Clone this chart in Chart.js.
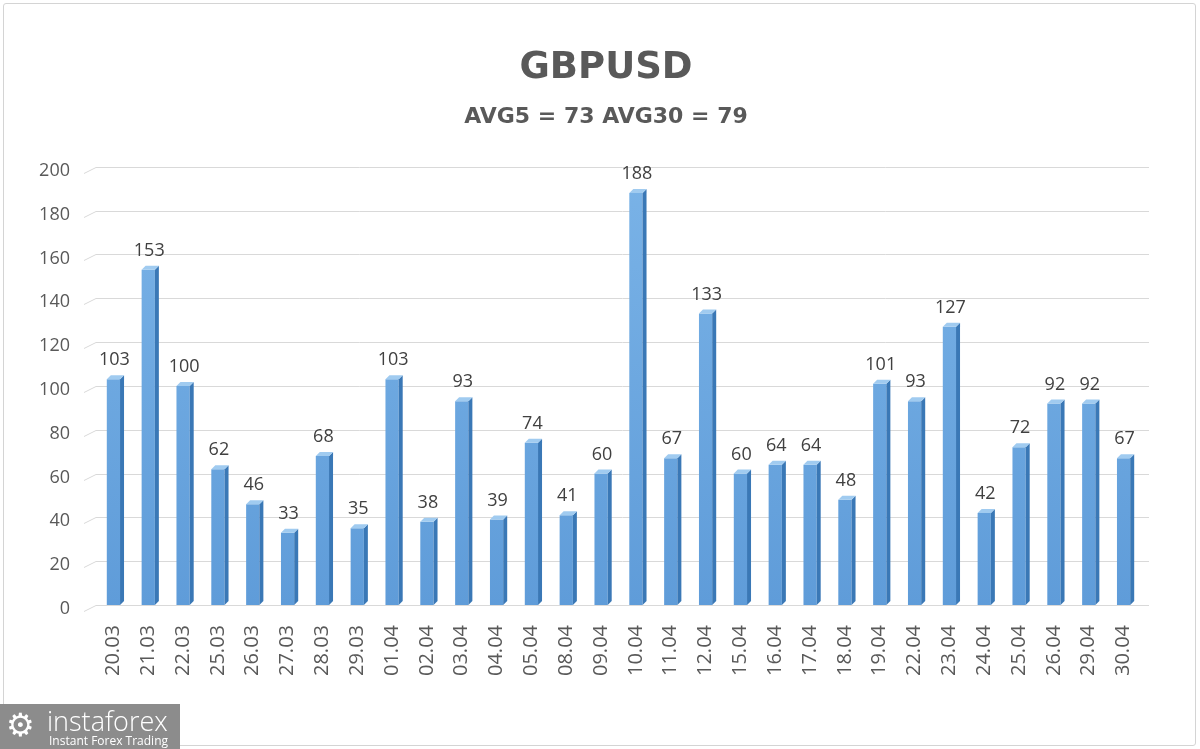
<!DOCTYPE html>
<html>
<head>
<meta charset="utf-8">
<title>GBPUSD</title>
<script src="https://cdn.jsdelivr.net/npm/chart.js@4.4.1/dist/chart.umd.min.js"></script>
<style>
    html, body { margin: 0; padding: 0; background: #fff; }
    #wrap { position: relative; width: 1200px; height: 749px; overflow: hidden; }
    #frame { position: absolute; left: 3px; top: 3px; width: 1191px; height: 741px; border: 1px solid #d4d4d4; border-radius: 3px; pointer-events: none; }
    #logo { position: absolute; left: 0; top: 704px; width: 180px; height: 45px; background: #8c8c8c; color: #fff; font-family: 'Open Sans', sans-serif; white-space: nowrap; }
    #logo .gear { position: absolute; left: 6px; top: 2px; font-size: 32px; line-height: 36px; }
    #logo .name { position: absolute; left: 47px; top: -2px; font-size: 27px; font-weight: 300; }
    #logo .tag { position: absolute; left: 49px; top: 28px; font-size: 12px; }
</style>
</head>
<body>
<div id="wrap">
    <canvas id="chart" width="1200" height="749"></canvas>
    <div id="frame"></div>
    <div id="logo"><span class="gear">⚙</span><span class="name">instaforex</span><span class="tag">Instant Forex Trading</span></div>
</div>
<script>
const labels = ['20.03', '21.03', '22.03', '25.03', '26.03', '27.03', '28.03', '29.03', '01.04', '02.04',
    '03.04', '04.04', '05.04', '08.04', '09.04', '10.04', '11.04', '12.04', '15.04', '16.04',
    '17.04', '18.04', '19.04', '22.04', '23.04', '24.04', '25.04', '26.04', '29.04', '30.04'];
const values = [103, 153, 100, 62, 46, 33, 68, 35, 103, 38,
    93, 39, 74, 41, 60, 188, 67, 133, 60, 64,
    64, 48, 101, 93, 127, 42, 72, 92, 92, 67];
const yTicks = [0, 20, 40, 60, 80, 100, 120, 140, 160, 180, 200];

const textColor = '#595959';

// 3D look: darker side face + top cap, then value labels
const barDecor = {
    id: 'barDecor',
    afterDatasetsDraw(chart) {
        const ctx = chart.ctx;
        const meta = chart.getDatasetMeta(0);
        ctx.save();
        meta.data.forEach((bar, i) => {
            const half = bar.width / 2;
            const right = bar.x + half;
            const top = bar.y;
            const base = bar.base;
            const d = 4;
            // side face
            ctx.fillStyle = '#3a78b6';
            ctx.beginPath();
            ctx.moveTo(right, top);
            ctx.lineTo(right + d, top - d);
            ctx.lineTo(right + d, base - d);
            ctx.lineTo(right, base);
            ctx.closePath();
            ctx.fill();
            // top cap
            ctx.fillStyle = '#a0cbf0';
            ctx.beginPath();
            ctx.moveTo(bar.x - half, top);
            ctx.lineTo(bar.x - half + d, top - d);
            ctx.lineTo(right + d, top - d);
            ctx.lineTo(right, top);
            ctx.closePath();
            ctx.fill();
            // value label
            ctx.fillStyle = '#404040';
            ctx.font = '18px "Open Sans", sans-serif';
            ctx.textAlign = 'center';
            ctx.textBaseline = 'bottom';
            ctx.fillText(values[i], bar.x + 1, top - 10);
        });
        ctx.restore();
    }
};

// slanted floor edges on the left of each gridline
const floorEdges = {
    id: 'floorEdges',
    beforeDatasetsDraw(chart) {
        const ctx = chart.ctx;
        const y = chart.scales.y;
        const left = chart.chartArea.left;
        const right = chart.chartArea.right;
        ctx.save();
        ctx.strokeStyle = '#d9d9d9';
        ctx.lineWidth = 1;
        yTicks.forEach(v => {
            const py = Math.round(y.getPixelForValue(v)) + 0.5;
            ctx.beginPath();
            ctx.moveTo(left - 12, py + 6);
            ctx.lineTo(left, py);
            ctx.lineTo(right + 8, py);
            ctx.stroke();
        });
        ctx.restore();
    }
};

const ctx = document.getElementById('chart').getContext('2d');
const barGradient = ctx.createLinearGradient(0, 170, 0, 605);
barGradient.addColorStop(0, '#7ab3e7');
barGradient.addColorStop(1, '#5f9cd9');

new Chart(ctx, {
    type: 'bar',
    data: {
        labels: labels,
        datasets: [{
            data: values,
            backgroundColor: barGradient,
            borderWidth: 0,
            barPercentage: 0.38,
            categoryPercentage: 1
        }]
    },
    options: {
        responsive: false,
        animation: false,
        layout: { padding: { top: 10, right: 0, bottom: 0, left: 12 } },
        plugins: {
            legend: { display: false },
            tooltip: { enabled: false },
            title: {
                display: true,
                text: 'GBPUSD',
                color: textColor,
                font: { family: 'DejaVu Sans', size: 37, weight: 'bold' },
                padding: { top: 36, bottom: 0 }
            },
            subtitle: {
                display: true,
                text: 'AVG5 = 73 AVG30 = 79',
                color: textColor,
                font: { family: 'DejaVu Sans', size: 22, weight: 'bold' },
                padding: { top: 14, bottom: 36 }
            }
        },
        scales: {
            x: {
                grid: { display: false },
                border: { display: true, color: '#d9d9d9' },
                ticks: {
                    color: textColor,
                    font: { family: 'Open Sans', size: 20 },
                    maxRotation: 90,
                    minRotation: 90,
                    padding: 12
                },
                afterFit(scale) { scale.height = 144; }
            },
            y: {
                min: 0,
                max: 200,
                grid: { display: false },
                border: { display: false },
                ticks: {
                    stepSize: 20,
                    color: textColor,
                    font: { family: 'Open Sans', size: 18 },
                    padding: 18,
                    labelOffset: 4
                },
                afterFit(scale) { scale.width = 84; }
            },
            y2: {
                position: 'right',
                grid: { display: false },
                border: { display: false },
                ticks: { display: false },
                afterFit(scale) { scale.width = 59; }
            }
        }
    },
    plugins: [floorEdges, barDecor]
});
</script>
</body>
</html>
